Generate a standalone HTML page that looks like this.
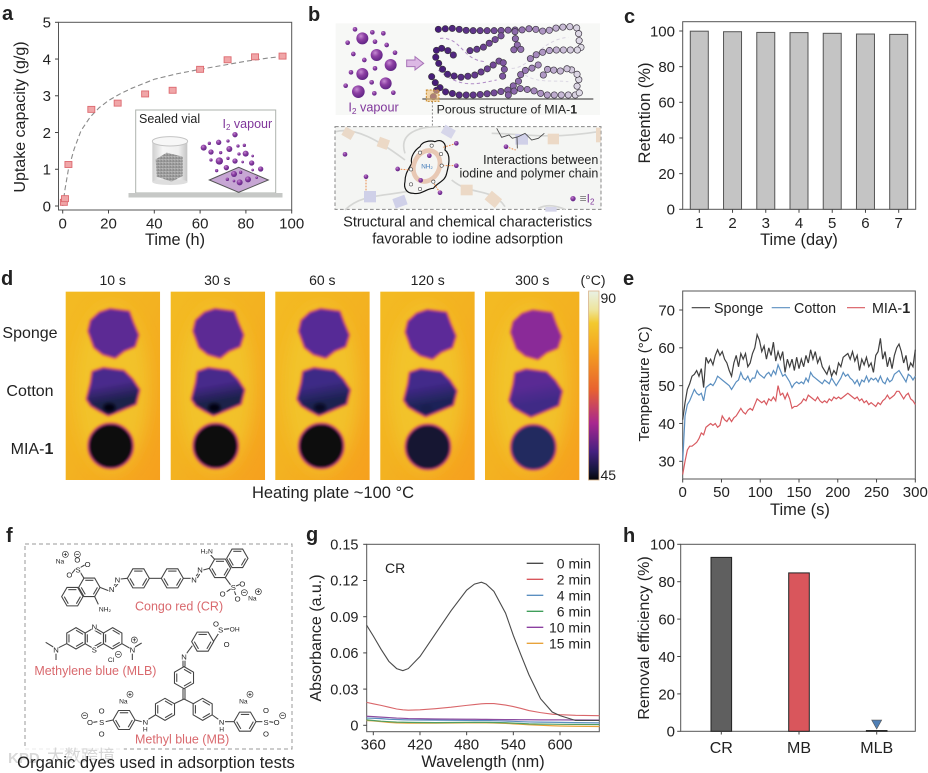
<!DOCTYPE html>
<html lang="en">
<head>
<meta charset="utf-8">
<title>MIA-1 adsorption figure</title>
<style>
html,body{margin:0;padding:0;background:#fff;}
svg{display:block;font-family:"Liberation Sans","Noto Sans CJK SC",sans-serif;filter:blur(.3px);}
text{fill:#222;}
</style>
</head>
<body>
<svg id="fig" xmlns="http://www.w3.org/2000/svg" width="928" height="773" viewBox="0 0 928 773">
<defs>
  <filter id="blur1" x="-20%" y="-20%" width="140%" height="140%"><feGaussianBlur stdDeviation="3.6"/></filter>
  <filter id="blur2" x="-40%" y="-40%" width="180%" height="180%"><feGaussianBlur stdDeviation="22"/></filter>
  <filter id="blur3" x="-40%" y="-40%" width="180%" height="180%"><feGaussianBlur stdDeviation="5"/></filter>
  <radialGradient id="sphere" cx="38%" cy="32%" r="70%"><stop offset="0" stop-color="#c58ad2"/><stop offset=".45" stop-color="#8c3fa3"/><stop offset="1" stop-color="#5f2484"/></radialGradient>
  <linearGradient id="plate" x1="0" y1="0" x2="1" y2="1"><stop offset="0" stop-color="#f3bb23"/><stop offset=".5" stop-color="#f3b221"/><stop offset="1" stop-color="#f6a01e"/></linearGradient>
  <linearGradient id="cbar" x1="0" y1="0" x2="0" y2="1">
    <stop offset="0" stop-color="#e9f1e6"/><stop offset=".1" stop-color="#eee49a"/><stop offset=".17" stop-color="#f3c92e"/><stop offset=".32" stop-color="#f4a11f"/><stop offset=".52" stop-color="#e8632f"/><stop offset=".7" stop-color="#a8278f"/><stop offset=".85" stop-color="#45207f"/><stop offset=".95" stop-color="#15163a"/><stop offset="1" stop-color="#060608"/>
  </linearGradient>
  <linearGradient id="vial" x1="0" y1="0" x2="1" y2="0"><stop offset="0" stop-color="#cfcfcf"/><stop offset=".3" stop-color="#f6f6f6"/><stop offset=".75" stop-color="#efefef"/><stop offset="1" stop-color="#c4c4c4"/></linearGradient>
  <pattern id="speck" width="9" height="9" patternUnits="userSpaceOnUse"><rect width="9" height="9" fill="#9a9a9a"/><rect x="1" y="1" width="3" height="3" fill="#dcdcdc"/><rect x="5" y="5" width="3" height="2" fill="#5f5f5f"/><rect x="6" y="1" width="2" height="2" fill="#c6c6c6"/></pattern>
</defs>

<rect width="928" height="773" fill="#fff"/>

<!-- panel letters -->
<g font-weight="700" font-size="20">
  <text x="2" y="20" fill="#111">a</text>
  <text x="308" y="21" fill="#111">b</text>
  <text x="624" y="23" fill="#111">c</text>
  <text x="1" y="285" fill="#111">d</text>
  <text x="623" y="285" fill="#111">e</text>
  <text x="6" y="542" fill="#111">f</text>
  <text x="306" y="541" fill="#111">g</text>
  <text x="623" y="542" fill="#111">h</text>
</g>

<!-- panel a -->
<g id="panelA">
  <text transform="translate(25,117) rotate(-90)" text-anchor="middle" font-size="16">Uptake capacity (g/g)</text>
  <text x="175" y="245" text-anchor="middle" font-size="16.3">Time (h)</text>
  <g id="insetA">
    <rect x="135.7" y="110" width="140" height="83" fill="#fff" stroke="#aeb3ae" stroke-width="1"/>
    <rect x="128.5" y="193" width="154" height="4.5" fill="#c6c8c6"/>
    <text x="139" y="123" font-size="12.5">Sealed vial</text>
    <text x="222.5" y="128" font-size="12.5" style="fill:#80379b">I<tspan font-size="8" dy="2" style="fill:#80379b">2</tspan><tspan dy="-2" style="fill:#80379b"> vapour</tspan></text>
    <g transform="scale(.33333)">
      <rect x="457" y="424" width="105" height="122" fill="url(#vial)"/>
      <ellipse cx="510" cy="546" rx="53" ry="9" fill="#dedede"/>
      <ellipse cx="510" cy="424" rx="53" ry="14" fill="#f7f7f7" stroke="#c4c4c4" stroke-width="3"/>
      <polygon points="467,478 500,458 548,470 548,528 515,545 470,530" fill="url(#speck)"/>
      <polygon points="628,540 716,502 805,540 716,577" fill="#c7a7d4" stroke="#555" stroke-width="3"/>
    </g>
  </g>
</g>

<!-- panel b -->
<g id="panelB">
  <g transform="translate(305,0) scale(.33333)" id="panelBInner">
    <rect x="92" y="70" width="793" height="275" fill="#f7f8f6"/>
    <rect x="90" y="380" width="798" height="248" fill="#f4f5f3" stroke="#888" stroke-width="3" stroke-dasharray="11 7"/>
    <line x1="382" y1="305" x2="382" y2="380" stroke="#777" stroke-width="2.5" stroke-dasharray="6 5"/>
    <polygon points="305,180 330,180 330,170 356,190 330,210 330,200 305,200" fill="#dcb8e4" stroke="#a773b7" stroke-width="3"/>
    <g id="bIodine"></g>
    <g fill="none" stroke="#b08cc6" stroke-width="3" stroke-dasharray="10 8">
      <path d="M405,115 C470,110 470,180 540,185"/>
      <path d="M400,210 C470,270 520,250 575,240"/>
      <path d="M620,205 C680,205 700,120 790,112" stroke="#d8d2e0"/>
      <path d="M660,225 C700,250 740,240 790,245" stroke="#dcd8e4"/>
    </g>
    <g id="bChains"></g>
    <line x1="352" y1="297" x2="865" y2="297" stroke="#555" stroke-width="4"/>
    <rect x="364" y="270" width="38" height="34" fill="#f0c27a" fill-opacity=".6" stroke="#c98a2a" stroke-width="3" stroke-dasharray="6 4"/>
    <g id="bLower"></g>
    <text x="130" y="335" font-size="38" style="fill:#80379b">I<tspan font-size="25" dy="7" style="fill:#80379b">2</tspan><tspan dy="-7" style="fill:#80379b"> vapour</tspan></text>
    <text x="395" y="340" font-size="37">Porous structure of MIA-<tspan font-weight="700">1</tspan></text>
    <text x="880" y="492" text-anchor="end" font-size="37.5">Interactions between</text>
    <text x="880" y="532" text-anchor="end" font-size="37.5">iodine and polymer chain</text>
    <circle cx="804" cy="596" r="8" fill="url(#sphere)"/>
    <text x="824" y="607" font-size="36" style="fill:#7d7d7d">≡<tspan style="fill:#80379b">I</tspan><tspan font-size="24" dy="6" style="fill:#80379b">2</tspan></text>
    <text x="488" y="680" text-anchor="middle" font-size="43.7">Structural and chemical characteristics</text>
    <text x="488" y="730" text-anchor="middle" font-size="43.7">favorable to iodine adsorption</text>
  </g>
</g>

<!-- panel c -->
<g id="panelC">
  <text transform="translate(650,113) rotate(-90)" text-anchor="middle" font-size="16.5">Retention (%)</text>
  <text x="799" y="245" text-anchor="middle" font-size="16.4">Time (day)</text>
</g>

<!-- panel d -->
<g id="panelD">
  <text x="30" y="338" text-anchor="middle" font-size="16">Sponge</text>
  <text x="30" y="396" text-anchor="middle" font-size="16">Cotton</text>
  <text x="32" y="454" text-anchor="middle" font-size="16">MIA-<tspan font-weight="700">1</tspan></text>
  <rect x="588.5" y="291" width="10.5" height="189" fill="url(#cbar)" stroke="#d9b48a" stroke-width=".8"/>
  <text x="593" y="285" text-anchor="middle" font-size="14">(°C)</text>
  <text x="600.5" y="303" font-size="14">90</text>
  <text x="600.5" y="480" font-size="14">45</text>
  <text x="333" y="498" text-anchor="middle" font-size="16.5">Heating plate ~100 °C</text>
</g>

<!-- panel e -->
<g id="panelE">
  <text transform="translate(649,384) rotate(-90)" text-anchor="middle" font-size="15">Temperature (°C)</text>
  <text x="800" y="515" text-anchor="middle" font-size="16.5">Time (s)</text>
</g>

<!-- panel f -->
<g id="panelF">
  <rect x="25" y="544" width="267" height="205" fill="none" stroke="#999" stroke-width="1" stroke-dasharray="4 3"/>
  <g id="fInner" transform="translate(0,525) scale(.33333)"></g>
  <rect x="8" y="746" width="116" height="22" fill="#fff" fill-opacity=".8"/>
  <text x="8" y="763" font-size="15" style="fill:#d9d9d9" font-weight="700">KPD</text>
  <text x="47" y="762" font-size="17" style="fill:#d6d6d6">大数跨境</text>
  <text x="156" y="768" text-anchor="middle" font-size="16.6">Organic dyes used in adsorption tests</text>
</g>

<!-- panel g -->
<g id="panelG">
  <text transform="translate(321,638) rotate(-90)" text-anchor="middle" font-size="16">Absorbance (a.u.)</text>
  <text x="483" y="767" text-anchor="middle" font-size="16.3">Wavelength (nm)</text>
  <text x="385" y="573" font-size="14">CR</text>
</g>

<!-- panel h -->
<g id="panelH">
  <text transform="translate(649,638) rotate(-90)" text-anchor="middle" font-size="16">Removal efficiency (%)</text>
</g>

<script>
// ----- panel a data -----
const aTime = [0.5, 1, 2.5, 12.5, 24, 36, 48, 60, 72, 84, 96];
const aUptake = [0.1, 0.2, 1.13, 2.63, 2.8, 3.05, 3.15, 3.72, 3.98, 4.06, 4.08];
const aFitTime = [0, 1, 2.5, 5, 8, 12, 16, 20, 25, 30, 40, 50, 60, 70, 80, 90, 96];
const aFitValue = [0, 0.45, 1.0, 1.55, 2.05, 2.42, 2.68, 2.87, 3.05, 3.2, 3.45, 3.6, 3.72, 3.83, 3.94, 4.03, 4.07];
const aXTicks = [0, 20, 40, 60, 80, 100];
const aYTicks = [0, 1, 2, 3, 4, 5];
// ----- panel c data -----
const cDays = [1, 2, 3, 4, 5, 6, 7];
const cRetention = [99.9, 99.6, 99.2, 99.1, 98.7, 98.3, 98.1];
const cYTicks = [0, 20, 40, 60, 80, 100];
// ----- panel e data -----
const eTime = [0,3,6,9,12,15,18,21,24,27,30,33,36,39,42,45,48,51,54,57,60,63,66,69,72,75,78,81,84,87,90,93,96,99,102,105,108,111,114,117,120,123,126,129,132,135,138,141,144,147,150,153,156,159,162,165,168,171,174,177,180,183,186,189,192,195,198,201,204,207,210,213,216,219,222,225,228,231,234,237,240,243,246,249,252,255,258,261,264,267,270,273,276,279,282,285,288,291,294,297,300];
const eSponge = [41,45.5,49,50.5,52.5,53,54,52.5,54.5,49.5,57.5, 56,57,55.5,58,59.5,58,59,57,56,54, 52.5,56,58,55,58.5,57,58.5,55,56,58.5, 60,63.5,62,59,60.5,57,60,58,61.5,56.5, 59,57,59,53.5,57,55,57,54,57.5,54.5, 57,55,58,56,59.5,57,59,56,57.5,55, 54,53,55,52.5,54,53,56,55,57.5,58, 58.5,57,59,56.5,58,54,57,55.5,57.5,55, 56,53.5,58,59,62.5,57,59,55,57.5,54.5, 58,60,61,59,56,58,54,56,55,59.5];
const eCotton = [30,42,45,46,47.5,49,48,47.5,48,46,49.5, 50,50.5,50,51,52.5,52,51.5,51,50.5,50, 49,50,51,51.5,53.5,52,51.5,52.5,51,52, 52,54,53,52.5,52,53,53.5,52.5,54,53, 55.5,54,52.5,53,52,51,49.5,50.5,51,50.5, 51,50.5,52,51,53.5,52.5,52,51.5,51,50.5, 51.5,51,50.5,52,51,50,51,52,53.5,52.5, 53,52,51.5,50.5,51.5,50,51.5,51,52.5,51, 52,51.5,52,51,52.5,51,50.5,52,51,51.5, 53,53.5,54,53,52,51,53,52.5,51.5,52.5];
const eMia = [26.5,30,33,34,34,34.5,35,36,37.5,37,39, 39.5,40,39.5,40,39,39.5,42,41,40.5,41.5, 40.5,41.5,42,43,44,43,42.5,43.5,44,43.5, 45,46.5,46,45.5,46,45,46.5,46,47,46, 50,47.5,48,46.5,48,46.5,44,44.5,44.5,45, 45.5,46.5,46,47.5,47,46.5,46,47,46,45.5, 46,45.5,46.5,46,47,46.5,47,46.5,47,47.5, 48,47.5,47,46.5,47,46,46.5,45.5,46,45, 45.5,45,44.5,45.5,45,46,46.5,47.5,46.5,47, 47.5,48.5,48.5,47.5,46.5,47.5,48,46.5,46,45];
const eXTicks = [0, 50, 100, 150, 200, 250, 300];
const eYTicks = [30, 40, 50, 60, 70];
// ----- panel g data -----
const gWave = [351.4, 360, 370, 380, 390, 398, 405, 420, 440, 460, 480, 490, 499, 505, 515, 530, 540, 550, 560, 575, 590, 600, 620, 650.6];
const g0min = [0.083, 0.074, 0.063, 0.053, 0.047, 0.0453, 0.047, 0.057, 0.076, 0.095, 0.112, 0.117, 0.1186, 0.117, 0.111, 0.093, 0.0745, 0.058, 0.042, 0.022, 0.011, 0.008, 0.004, 0.004];
const g2min = [0.019, 0.0178, 0.0165, 0.015, 0.0135, 0.0128, 0.0125, 0.0128, 0.0138, 0.015, 0.0165, 0.0172, 0.0178, 0.018, 0.018, 0.0168, 0.0155, 0.014, 0.0122, 0.0105, 0.0092, 0.0088, 0.0083, 0.008];
const g4min = [0.006, 0.0058, 0.0055, 0.005, 0.0048, 0.0046, 0.0045, 0.0044, 0.0043, 0.0042, 0.0041, 0.004, 0.004, 0.004, 0.0038, 0.0035, 0.0033, 0.003, 0.0028, 0.0026, 0.0025, 0.0024, 0.0022, 0.002];
const g6min = [0.0045, 0.004, 0.0034, 0.003, 0.0026, 0.0025, 0.0024, 0.0023, 0.0022, 0.0023, 0.0024, 0.0024, 0.0024, 0.0024, 0.0023, 0.0021, 0.0018, 0.0015, 0.0012, 0.001, 0.0009, 0.0008, 0.0007, 0.0006];
const g10min = [0.0075, 0.0072, 0.0068, 0.0064, 0.006, 0.0058, 0.0056, 0.0054, 0.0052, 0.0051, 0.005, 0.005, 0.0049, 0.0049, 0.0048, 0.0047, 0.0047, 0.0046, 0.0046, 0.0045, 0.0045, 0.0045, 0.0044, 0.0043];
const g15min = [0.004, 0.0036, 0.003, 0.0024, 0.002, 0.0019, 0.0018, 0.0018, 0.0018, 0.0019, 0.002, 0.002, 0.002, 0.002, 0.0019, 0.0016, 0.0012, 0.0008, 0.0004, 0, -0.0004, -0.0006, -0.0008, -0.001];
const gLabels = ['0 min', '2 min', '4 min', '6 min', '10 min', '15 min'];
const gXTicks = [360, 420, 480, 540, 600];
const gYTicks = [0, 0.03, 0.06, 0.09, 0.12, 0.15];
const gYTickLabels = ['0', '0.03', '0.06', '0.09', '0.12', '0.15'];
// ----- panel h data -----
const hDyes = ['CR', 'MB', 'MLB'];
const hRemoval = [93, 84.7, 0.4];
const hYTicks = [0, 20, 40, 60, 80, 100];
// ----- panel d labels -----
const dTimes = ['10 s', '30 s', '60 s', '120 s', '300 s'];

const NS = 'http://www.w3.org/2000/svg';
function mk(parent, tag, attrs, txt) {
  const e = document.createElementNS(NS, tag);
  for (const k in attrs) e.setAttribute(k, attrs[k]);
  if (txt !== undefined) e.textContent = txt;
  parent.appendChild(e);
  return e;
}
function lin(d0, d1, r0, r1) { return v => r0 + (v - d0) * (r1 - r0) / (d1 - d0); }
function pathOf(xs, ys, fx, fy) { return xs.map((v, i) => (i ? 'L' : 'M') + fx(v).toFixed(2) + ',' + fy(ys[i]).toFixed(2)).join(' '); }
function frame(g, x0, y0, x1, y1) {
  const r = mk(g, 'rect', {x: x0, y: y0, width: x1 - x0, height: y1 - y0, fill: 'none', stroke: '#555', 'stroke-width': 1});
  
  
}
function xAxis(g, vals, labels, fx, yBase, baseline, size) {
  vals.forEach((v, i) => {
    const t = mk(g, 'line', {x1: fx(v), x2: fx(v), y1: yBase, y2: yBase + 3.5, stroke: '#444', 'stroke-width': 1});
    
    
    const l = mk(g, 'text', {x: fx(v), y: baseline, 'text-anchor': 'middle', 'font-size': size}, labels[i]);
    
    
  });
}
function yAxis(g, vals, labels, fy, xBase, labelX, size) {
  vals.forEach((v, i) => {
    const t = mk(g, 'line', {x1: xBase - 3.5, x2: xBase, y1: fy(v), y2: fy(v), stroke: '#444', 'stroke-width': 1});
    
    
    const l = mk(g, 'text', {x: labelX, y: fy(v) + size * 0.36, 'text-anchor': 'end', 'font-size': size}, labels[i]);
    
    
  });
}

// ===== panel a =====
(function () {
  const g = document.getElementById('panelA');
  const fx = lin(0, 100, 62.7, 291.7), fy = lin(0, 5, 206, 22.3);
  frame(g, 58.5, 22.3, 291.7, 210);
  xAxis(g, aXTicks, aXTicks.map(String), fx, 210, 228.5, 15);
  yAxis(g, aYTicks, aYTicks.map(String), fy, 58.5, 51, 15);
  const fit = mk(g, 'path', {d: pathOf(aFitTime, aFitValue, fx, fy), fill: 'none', stroke: '#8a8a8a', 'stroke-width': 1.1, 'stroke-dasharray': '5 3'});
  
  
  const inset = document.getElementById('insetA');
  g.appendChild(inset);
  aTime.forEach((t, i) => {
    const s = mk(g, 'rect', {x: fx(t) - 3.5, y: fy(aUptake[i]) - 3, width: 7, height: 6, fill: '#f0a6a8', stroke: '#dd6a70', 'stroke-width': 0.9});
    
    
  });
  const spheres = [[705,404,8],[611,443,9],[628,430,5],[656,427,8],[684,423,5],[633,456,8],[688,447,9],[714,438,5],[733,436,5],[662,458,5],[717,462,5],[737,461,9],[758,468,4],[633,480,5],[658,483,11],[684,475,5],[705,483,8],[728,486,4],[755,489,8],[679,503,8],[650,512,5],[782,507,8],[702,522,9],[722,517,5],[758,510,4],[682,538,5],[702,543,4],[719,547,9],[744,538,9],[770,533,4]];
  const sg = mk(inset, 'g', {transform: 'scale(.33333)'});
  spheres.forEach(p => {
    const c = mk(sg, 'circle', {cx: p[0], cy: p[1], r: p[2], fill: 'url(#sphere)'});
    
    
  });
})();

// ===== panel b =====
(function () {
  const ig = document.getElementById('bIodine');
  const big = [[172,115,18],[215,165,18],[257,195,18],[172,222,18],[242,250,18],[160,275,19],[150,88,7],[202,97,7],[235,100,7],[128,128,7],[210,125,7],[245,135,7],[145,162,7],[178,180,7],[270,158,7],[138,217,7],[210,205,7],[122,257,7],[200,247,7],[265,278,7],[208,280,7]];
  big.forEach(p => {
    const c = mk(ig, 'circle', {cx: p[0], cy: p[1], r: p[2], fill: 'url(#sphere)'});
    
    
  });
  const chains = [
    [[400,88],[440,85],[490,92],[530,92],[580,92],[620,90],[650,90],[680,85],[720,95],[760,82],[800,80],[820,85],[822,120],[830,150],[800,150],[770,150],[740,150],[700,160],[670,180]],
    [[630,95],[632,130],[650,148],[615,150]],
    [[495,152],[530,145],[560,125],[585,110],[600,98]],
    [[445,165],[420,145],[395,145],[392,175],[410,205],[430,225],[470,232],[510,225],[550,205],[590,178],[600,200],[590,240]],
    [[380,230],[395,255],[420,275],[460,285],[510,285],[560,280],[610,270],[640,245],[650,215],[680,205],[705,192]],
    [[385,290],[395,270]],
    [[610,285],[640,265],[680,270],[720,285],[770,285],[825,285],[815,255],[825,230],[800,210],[790,195]],
    [[715,225],[730,205],[760,215],[790,205]]
  ];
  function beadColor(x) {
    const stops = [[400,[70,28,120]],[560,[112,70,150]],[680,[160,130,185]],[830,[226,223,232]]];
    if (x <= 400) return 'rgb(70,28,120)';
    for (let i = 1; i < stops.length; i++) {
      if (x <= stops[i][0]) {
        const t = (x - stops[i-1][0]) / (stops[i][0] - stops[i-1][0]);
        const a = stops[i-1][1], b = stops[i][1];
        return 'rgb(' + a.map((v, k) => Math.round(v + (b[k] - v) * t)).join(',') + ')';
      }
    }
    return 'rgb(226,223,232)';
  }
  const cg = document.getElementById('bChains');
  chains.forEach(ch => {
    let carry = 0;
    for (let i = 1; i < ch.length; i++) {
      const dx = ch[i][0] - ch[i-1][0], dy = ch[i][1] - ch[i-1][1], L = Math.hypot(dx, dy);
      let d = carry;
      while (d <= L) {
        const x = ch[i-1][0] + dx * d / L, y = ch[i-1][1] + dy * d / L;
        const c = mk(cg, 'circle', {cx: x, cy: y, r: 9.5, fill: beadColor(x), stroke: '#3a3340', 'stroke-width': 2});
        
        
        d += 21;
      }
      carry = d - L;
    }
  });
  const lg = document.getElementById('bLower');
  const ribbons = ['M92,395 C150,380 220,420 300,480','M440,540 C500,590 560,560 600,620','M120,630 C170,580 240,590 330,570','M560,400 C640,400 720,420 880,395','M300,460 C280,400 340,380 400,380','M700,625 C730,610 760,620 780,628'];
  ribbons.forEach(d => {
    const p = mk(lg, 'path', {d: d, fill: 'none', stroke: '#d5d6d4', 'stroke-width': 5});
    
    
  });
  const blocks = [[130,400,32,28,'#ead9c8',30],[235,430,32,30,'#ecd9c6',20],[195,590,36,34,'#cfd0e8',0],[285,605,38,30,'#cfd0e8',-20],[485,570,36,32,'#ecd9c6',0],[565,598,40,34,'#ecd9c6',40],[430,395,36,28,'#d6d6ea',30],[650,418,38,32,'#d0d0e8',0],[745,417,34,32,'#ecd9c6',0],[880,405,14,44,'#ecd9c6',0],[738,628,34,14,'#d6d6ea',0]];
  blocks.forEach(b => {
    const r = mk(lg, 'rect', {x: b[0] - b[2] / 2, y: b[1] - b[3] / 2, width: b[2], height: b[3], fill: b[4], transform: 'rotate(' + b[5] + ' ' + b[0] + ' ' + b[1] + ')'});
    
    
  });
  const cage = mk(lg, 'path', {d: 'M300,545 C300,520 310,510 320,490 C315,470 330,450 345,440 C350,425 375,420 390,425 C410,415 425,430 420,450 C440,465 430,500 425,520 C420,545 400,545 385,565 C365,565 350,585 325,580 C305,580 295,565 300,545Z', fill: '#f5f5f3', stroke: '#111', 'stroke-width': 3.5});
  
  
  const ring = mk(lg, 'ellipse', {cx: 365, cy: 498, rx: 38, ry: 48, fill: 'none', stroke: '#e8c8b4', 'stroke-width': 14, transform: 'rotate(25 365 498)'});
  
  
  const nh = mk(lg, 'text', {x: 366, y: 505, 'text-anchor': 'middle', 'font-size': 19, style: 'fill:#3e78b8'}, 'NH₂');
  
  
  const dashes = [[454,430,415,442],[454,497,415,497],[278,507,315,510],[405,578,385,548],[183,530,183,575],[603,440,632,450]];
  dashes.forEach(d => {
    const l = mk(lg, 'line', {x1: d[0], y1: d[1], x2: d[2], y2: d[3], stroke: '#ea8a4a', 'stroke-width': 3, 'stroke-dasharray': '5 4'});
    
    
  });
  const dots = [[454,430],[454,497],[278,507],[405,578],[183,530],[120,463],[603,440],[373,467],[347,541]];
  dots.forEach(p => {
    const c = mk(lg, 'circle', {cx: p[0], cy: p[1], r: 7, fill: 'url(#sphere)'});
    
    
  });
  const nodes = [[345,458],[380,437],[408,462],[410,497],[385,545],[345,567],[318,553],[318,508]];
  nodes.forEach(p => {
    const c = mk(lg, 'circle', {cx: p[0], cy: p[1], r: 5, fill: '#fff', stroke: '#555', 'stroke-width': 2});
    
    
  });
  const amide = mk(lg, 'path', {d: 'M575,385 L590,412 L612,405 L622,415 L640,410 L660,400 L680,420 L700,415 L718,400 M636,412 L637,445', fill: 'none', stroke: '#444', 'stroke-width': 2.5});
  
  
})();

// ===== panel c =====
(function () {
  const g = document.getElementById('panelC');
  const fx = lin(1, 7, 699.3, 898.7), fy = lin(0, 100, 209.3, 31);
  frame(g, 682.7, 21.7, 915.7, 209.3);
  cDays.forEach((d, i) => {
    const b = mk(g, 'rect', {x: fx(d) - 9, y: fy(cRetention[i]), width: 18, height: fy(0) - fy(cRetention[i]), fill: '#c4c4c4', stroke: '#555', 'stroke-width': 1});
    
    
  });
  xAxis(g, cDays, cDays.map(String), fx, 209.3, 228, 15);
  yAxis(g, cYTicks, cYTicks.map(String), fy, 682.7, 675, 15);
})();

// ===== panel d =====
(function () {
  const g = document.getElementById('panelD');
  const lefts = [65.7, 170.7, 275.3, 380.3, 485];
  const centers = [112.7, 217.3, 322.3, 427.7, 532.3];
  const shiftX = [0, 0, 3, 8, 10];
  const shiftY = [0, 0, 0, 3, 4];
  const spongeCol = ['#5b2a94', '#5b2a94', '#562a96', '#5c2a98', '#8a2a98'];
  const cottonTop = ['#4a2a8c', '#47298b', '#3e2a86', '#42298a', '#5a2a94'];
  const cottonLow = ['#1a2048', '#1a2048', '#1b2250', '#1f2458', '#3f2a86'];
  const spotOp = [.95, .95, .7, .1, 0];
  const miaCol = ['#08080b', '#08080b', '#090a10', '#141830', '#232c5e'];
  const spongePts = '268,228 275,198 300,175 330,165 385,172 397,205 412,240 402,272 370,285 345,305 310,295 285,275';
  const cottonPts = '263,432 275,385 280,352 310,342 370,350 395,375 415,405 405,445 345,470 325,478 300,465 275,450';
  const defs = document.querySelector('defs');
  dTimes.forEach((label, i) => {
    const t = mk(g, 'text', {x: centers[i], y: 285, 'text-anchor': 'middle', 'font-size': 14}, label);
    
    
    const fg = mk(g, 'g', {transform: 'translate(' + (lefts[i] - 197 / 3) + ',255) scale(.33333)'});
    
    
    const cp = mk(defs, 'clipPath', {id: 'clip' + i});
    mk(cp, 'rect', {x: 197, y: 110, width: 283, height: 565});
    const bg = mk(fg, 'rect', {x: 197, y: 110, width: 283, height: 565, fill: 'url(#plate)'});
    
    
    const halo = mk(fg, 'g', {'clip-path': 'url(#clip' + i + ')'});
    const he = mk(halo, 'ellipse', {cx: 335, cy: 400, rx: 110, ry: 250, fill: '#f2c82d', 'fill-opacity': .75, filter: 'url(#blur2)'});
    
    
    const inner = mk(fg, 'g', {transform: 'translate(' + shiftX[i] + ',' + shiftY[i] + ')'});
    const grad = mk(defs, 'linearGradient', {id: 'cot' + i, x1: 0, y1: 0, x2: 0.2, y2: 1});
    mk(grad, 'stop', {offset: '0.1', 'stop-color': cottonTop[i]});
    mk(grad, 'stop', {offset: '.4', 'stop-color': cottonTop[i]});
    mk(grad, 'stop', {offset: '.8', 'stop-color': cottonLow[i]});
    function blob(kind, fill, name) {
      const group = mk(inner, 'g', {filter: 'url(#blur1)'});
      
      
      const shape = (w, col, f) => kind === 'circle'
        ? mk(group, 'circle', {cx: 332, cy: 573, r: 64, fill: f, stroke: col, 'stroke-width': w})
        : mk(group, 'polygon', {points: kind, fill: f, stroke: col, 'stroke-width': w, 'stroke-linejoin': 'round'});
      shape(15, '#ee7a2a', '#ee7a2a');
      shape(8, '#a5288e', '#a5288e');
      shape(2, fill, fill);
    }
    blob(spongePts, spongeCol[i], 'sponge-sample');
    blob(cottonPts, 'url(#cot' + i + ')', 'cotton-sample');
    if (spotOp[i] > 0) {
      const sp = mk(inner, 'ellipse', {cx: 328, cy: 458, rx: 18, ry: 13, fill: '#06060c', 'fill-opacity': spotOp[i], filter: 'url(#blur3)'});
      
      
    }
    blob('circle', miaCol[i], 'mia-1-sample');
  });
})();

// ===== panel e =====
(function () {
  const g = document.getElementById('panelE');
  const fx = lin(0, 300, 682.7, 915.3), fy = lin(30, 70, 461.3, 310);
  frame(g, 682.7, 291, 915.3, 479);
  xAxis(g, eXTicks, eXTicks.map(String), fx, 479, 497, 15);
  yAxis(g, eYTicks, eYTicks.map(String), fy, 682.7, 675, 15);
  const sp = mk(g, 'path', {d: pathOf(eTime, eSponge, fx, fy), fill: 'none', stroke: '#3f3f3f', 'stroke-width': 1.2});
  
  
  const co = mk(g, 'path', {d: pathOf(eTime, eCotton, fx, fy), fill: 'none', stroke: '#5b8fc0', 'stroke-width': 1.2});
  
  
  const mi = mk(g, 'path', {d: pathOf(eTime, eMia, fx, fy), fill: 'none', stroke: '#d85a60', 'stroke-width': 1.2});
  
  
  const l1 = mk(g, 'line', {x1: 691.7, x2: 710, y1: 307.7, y2: 307.7, stroke: '#3f3f3f', 'stroke-width': 1.2});
  
  
  const t1 = mk(g, 'text', {x: 714, y: 313, 'font-size': 14.3}, 'Sponge');
  
  
  const l2 = mk(g, 'line', {x1: 771.7, x2: 790, y1: 307.7, y2: 307.7, stroke: '#5b8fc0', 'stroke-width': 1.2});
  
  
  const t2 = mk(g, 'text', {x: 794, y: 313, 'font-size': 14.3}, 'Cotton');
  
  
  const l3 = mk(g, 'line', {x1: 847, x2: 865, y1: 307.7, y2: 307.7, stroke: '#d85a60', 'stroke-width': 1.2});
  
  
  const t3 = mk(g, 'text', {x: 872, y: 313, 'font-size': 14.3}, 'MIA-');
  
  
  mk(t3, 'tspan', {'font-weight': 700}, '1');
})();

// ===== panel f =====
(function () {
  const g = document.getElementById('fInner');
  const ink = '#444';
  function seg(x1, y1, x2, y2) {
    const l = mk(g, 'line', {x1: x1, y1: y1, x2: x2, y2: y2, stroke: ink, 'stroke-width': 3.2});
    
    
  }
  function hex(cx, cy, r, startDeg) {
    const pts = [];
    for (let i = 0; i < 6; i++) { const a = (startDeg + i * 60) * Math.PI / 180; pts.push([cx + r * Math.cos(a), cy + r * Math.sin(a)]); }
    const p = mk(g, 'polygon', {points: pts.map(q => q.join(',')).join(' '), fill: 'none', stroke: ink, 'stroke-width': 3.2});
    
    
    for (let i = 0; i < 6; i += 2) {
      const a = pts[i], b = pts[(i + 1) % 6], k = .76;
      seg(cx + (a[0] - cx) * k, cy + (a[1] - cy) * k, cx + (b[0] - cx) * k, cy + (b[1] - cy) * k);
    }
  }
  function atom(x, y, s, size) {
    const bg = mk(g, 'rect', {x: x - 8 * s.length, y: y - 12, width: 16 * s.length, height: 24, fill: '#fff'});
    
    
    const t = mk(g, 'text', {x: x, y: y + 8, 'text-anchor': 'middle', 'font-size': size || 23}, s);
    
    
  }
  function charge(x, y, s) {
    const c = mk(g, 'circle', {cx: x, cy: y, r: 9, fill: '#fff', stroke: '#333', 'stroke-width': 2});
    
    
    const t = mk(g, 'text', {x: x, y: y + 6, 'text-anchor': 'middle', 'font-size': 20, 'font-weight': 700}, s);
    
    
  }
  function red(x, y, s) {
    const t = mk(g, 'text', {x: x, y: y, 'font-size': 37.5, style: 'fill:#d9696e'}, s);
    
    
  }
  // Congo red
  hex(217, 215, 32, 0); hex(268, 187, 32, 0); hex(415, 160, 33, 0); hex(517, 160, 33, 0); hex(660, 130, 32, 0); hex(712, 100, 32, 0);
  seg(448,160,484,160); seg(300,187,325,197); seg(342,182,350,172); seg(346,186,354,176); seg(362,162,382,160);
  seg(550,160,572,160); seg(588,155,595,143); seg(592,159,599,147); seg(610,135,628,130);
  seg(252,160,238,137); seg(284,215,295,238); seg(644,103,632,90); seg(676,158,692,180);
  seg(228,130,216,145); seg(240,128,254,120); seg(692,192,680,200); seg(708,183,720,178); seg(702,195,708,212);
  atom(335,193,'N'); atom(352,165,'N'); atom(582,165,'N'); atom(600,134,'N');
  atom(234,134,'S'); atom(208,150,'O'); atom(263,118,'O'); atom(232,105,'O');
  atom(315,252,'NH₂',20); atom(180,107,'Na',20); charge(196,88,'+'); charge(232,88,'−');
  atom(620,78,'H₂N',20); atom(700,187,'S'); atom(668,207,'O'); atom(727,177,'O'); atom(713,222,'O');
  charge(733,203,'−'); atom(757,219,'Na',20); charge(775,200,'+');
  red(405,257,'Congo red (CR)');
  // Methylene blue
  hex(228,340,32,30); hex(283,340,32,30); hex(338,340,32,30);
  seg(200,356,172,370); seg(366,356,390,370); seg(160,366,137,352); seg(168,385,168,405); seg(405,366,425,354); seg(397,385,397,405);
  atom(283,305,'N'); atom(283,375,'S'); atom(168,374,'N'); atom(397,374,'N');
  charge(403,345,'+'); atom(333,403,'Cl',20); charge(355,388,'−');
  red(103,450,'Methylene blue (MLB)');
  // Methyl blue
  hex(552,458,33,30); hex(495,553,33,30); hex(608,553,33,30); hex(608,350,33,0); hex(372,585,33,0); hex(735,590,33,0);
  seg(549,405,549,425); seg(555,405,555,425); seg(560,385,577,362); seg(549,491,549,525); seg(555,491,555,525);
  seg(552,522,523,536); seg(552,522,580,536); seg(466,570,445,583); seg(425,590,405,585); seg(637,570,655,583); seg(675,590,702,590);
  seg(339,585,317,590); seg(768,590,787,590); seg(640,350,656,325); seg(672,313,688,311);
  seg(292,590,280,592); seg(808,590,820,592);
  atom(552,395,'N'); atom(662,315,'S'); atom(648,297,'O'); atom(680,358,'O'); atom(704,312,'OH',20);
  atom(436,592,'N'); atom(436,611,'H',20); atom(665,592,'N'); atom(665,611,'H',20);
  atom(305,592,'S'); atom(305,558,'O'); atom(305,626,'O'); atom(270,592,'O'); charge(254,572,'−');
  atom(798,592,'S'); atom(798,556,'O'); atom(798,626,'O'); atom(830,592,'O'); charge(848,572,'−');
  atom(370,528,'Na',20); charge(390,508,'+'); atom(730,528,'Na',20); charge(750,508,'+');
  red(405,655,'Methyl blue (MB)');
})();

// ===== panel g =====
(function () {
  const g = document.getElementById('panelG');
  const fx = lin(360, 600, 373.3, 560), fy = lin(0, 0.15, 725.3, 544.3);
  frame(g, 366.7, 544.3, 599.3, 731.7);
  xAxis(g, gXTicks, gXTicks.map(String), fx, 731.7, 749.5, 15);
  yAxis(g, gYTicks, gYTickLabels, fy, 366.7, 358.5, 14.5);
  const s5 = mk(g, 'path', {d: pathOf(gWave, g15min, fx, fy), fill: 'none', stroke: '#e8a33a', 'stroke-width': 1.2});
  
  
  const s3 = mk(g, 'path', {d: pathOf(gWave, g6min, fx, fy), fill: 'none', stroke: '#4f9e63', 'stroke-width': 1.2});
  
  
  const s2 = mk(g, 'path', {d: pathOf(gWave, g4min, fx, fy), fill: 'none', stroke: '#5b8fc0', 'stroke-width': 1.2});
  
  
  const s4 = mk(g, 'path', {d: pathOf(gWave, g10min, fx, fy), fill: 'none', stroke: '#8b4ca0', 'stroke-width': 1.2});
  
  
  const s1 = mk(g, 'path', {d: pathOf(gWave, g2min, fx, fy), fill: 'none', stroke: '#d9666a', 'stroke-width': 1.1});
  
  
  const s0 = mk(g, 'path', {d: pathOf(gWave, g0min, fx, fy), fill: 'none', stroke: '#4a4a4a', 'stroke-width': 1.1});
  
  
  const gColors = ['#4a4a4a', '#d9565c', '#5b8fc0', '#3f9e5a', '#8b3fa0', '#e8a33a'];
  gLabels.forEach((lab, i) => {
    const y = 563.3 + i * 16;
    const l = mk(g, 'line', {x1: 526.7, x2: 543.3, y1: y, y2: y, stroke: gColors[i], 'stroke-width': 1.3});
    
    
    const t = mk(g, 'text', {x: 591, y: y + 5, 'text-anchor': 'end', 'font-size': 14}, lab);
    
    
  });
})();

// ===== panel h =====
(function () {
  const g = document.getElementById('panelH');
  const fy = lin(0, 100, 731.3, 544.3);
  const fx = i => 721.3 + i * 77.7;
  const colors = ['#5f5f5f', '#d9565c', '#5b8fc0'];
  frame(g, 680.7, 544.3, 915.3, 731.3);
  hDyes.forEach((d, i) => {
    const b = mk(g, 'rect', {x: fx(i) - 10.3, y: fy(hRemoval[i]), width: 20.6, height: fy(0) - fy(hRemoval[i]), fill: colors[i], stroke: '#222', 'stroke-width': 1});
    
    
    const t = mk(g, 'line', {x1: fx(i), x2: fx(i), y1: 731.3, y2: 734.5, stroke: '#444', 'stroke-width': 1});
    
    
    const l = mk(g, 'text', {x: fx(i), y: 753, 'text-anchor': 'middle', 'font-size': 16}, d);
    
    
  });
  const mx = fx(2), my = fy(hRemoval[2]);
  const tri = mk(g, 'polygon', {points: (mx - 5) + ',' + (my - 10) + ' ' + (mx + 5) + ',' + (my - 10) + ' ' + mx + ',' + (my - 1), fill: '#4f7fb5', stroke: '#555', 'stroke-width': .6, transform: 'translate(0,-0.5)'});
  
  
  yAxis(g, hYTicks, hYTicks.map(String), fy, 680.7, 675, 15);
})();
</script>
</svg>
</body>
</html>
